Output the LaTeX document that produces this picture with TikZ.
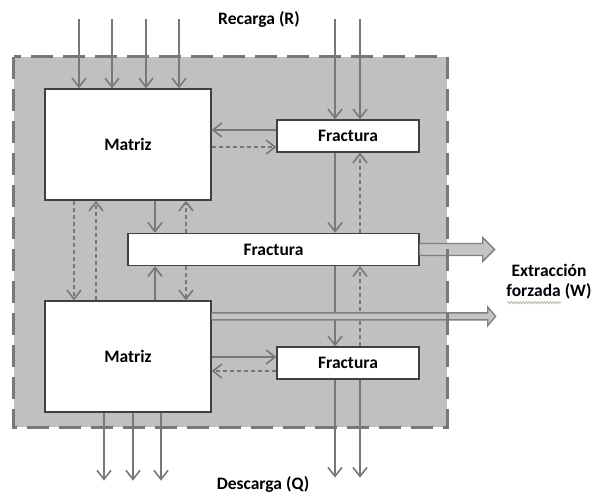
\documentclass[tikz,border=0pt]{standalone}
\usepackage{fontspec}
\setmainfont{Carlito}
\usetikzlibrary{arrows.meta,positioning,calc,decorations.pathmorphing}
\definecolor{FondoGris}{RGB}{192,192,192}
\definecolor{LineaGris}{RGB}{120,120,120}
\definecolor{BordeCaja}{RGB}{64,64,64}
\definecolor{BloqueGris}{RGB}{196,196,196}
\definecolor{BloqueBorde}{RGB}{128,128,128}
\definecolor{OndaGris}{RGB}{190,180,160}
\tikzset{
  >={Straight Barb[length=9pt,width=14pt,line width=1.6pt]},
  caja/.style={draw=BordeCaja,line width=1.3pt,fill=white,font=\fontsize{17.5}{20}\selectfont\bfseries,inner sep=0pt},
  matriz/.style={caja,minimum width=166pt,minimum height=111pt},
  fractura/.style={caja,minimum height=32pt},
  flujo/.style={->,line width=1.8pt,draw=LineaGris},
  retorno/.style={flujo,line width=1.6pt,dash pattern=on 4pt off 3pt},
  bloque/.style={draw=BloqueBorde,line width=1.3pt,fill=BloqueGris,line join=miter},
  zona/.style={fill=FondoGris,inner sep=0pt,minimum width=433pt,minimum height=370pt},
  borde/.style={draw=LineaGris,line width=3pt,dash pattern=on 22pt off 10pt},
  etiqueta/.style={font=\fontsize{17.5}{20}\selectfont\bfseries,align=center,text=black,inner sep=0pt},
  onda/.style={draw=OndaGris,line width=0.8pt,decorate,decoration={snake,amplitude=1pt,segment length=3pt}}
}
\begin{document}
\begin{tikzpicture}[x=1pt,y=-1pt]
  \useasboundingbox (0,0) rectangle (594,493);
  \node[zona] (zona) at (230.5,242) {};
  % cajas
  \node[matriz] (matSup) at (128,144.5) {Matriz};
  \node[matriz] (matInf) at (128,356.5) {Matriz};
  \node[fractura,minimum width=142pt] (fracSup) at (348,136) {Fractura};
  \node[fractura,minimum width=291pt] (fracMed) at (273.5,249.5) {Fractura};
  \node[fractura,minimum width=142pt] (fracInf) at (348,363) {Fractura};
  % recarga
  \foreach \dx [count=\i] in {-49,-16,18,51} {
    \coordinate (recarga\i) at ($(matSup.north)+(\dx,-69)$);
    \draw[flujo] (recarga\i) -- (recarga\i |- matSup.north);
  }
  \foreach \dx [count=\i] in {-13,12} {
    \coordinate (recargaF\i) at ($(fracSup.north)+(\dx,-100)$);
    \draw[flujo] (recargaF\i) -- (recargaF\i |- fracSup.north);
  }
  % intercambios matriz - fractura
  \coordinate (c1) at ($(fracSup.west)+(0,-6)$);
  \draw[flujo] (c1) -- (c1 -| matSup.east);
  \coordinate (c2) at ($(matSup.east)+(0,2.5)$);
  \draw[retorno] (c2) -- (c2 -| fracSup.west);
  \coordinate (c3) at ($(matSup.south)+(27,0)$);
  \coordinate (c4) at ($(matSup.south)+(58,0)$);
  \draw[flujo] (c3) -- (c3 |- fracMed.north);
  \draw[retorno] (c4 |- fracMed.north) -- (c4);
  \draw[flujo] (c3 |- matInf.north) -- (c3 |- fracMed.south);
  \draw[retorno] (c4 |- fracMed.south) -- (c4 |- matInf.north);
  \coordinate (c5) at ($(matSup.south)+(-54,0)$);
  \coordinate (c6) at ($(matSup.south)+(-32,0)$);
  \draw[retorno] (c5) -- (c5 |- matInf.north);
  \draw[retorno] (c6 |- matInf.north) -- (c6);
  \coordinate (c7) at ($(fracSup.south)+(-13,0)$);
  \coordinate (c8) at ($(fracSup.south)+(12,0)$);
  \draw[flujo] (c7) -- (c7 |- fracMed.north);
  \draw[retorno] (c8 |- fracMed.north) -- (c8);
  \draw[flujo] (c7 |- fracMed.south) -- (c7 |- fracInf.north);
  \draw[retorno] (c8 |- fracInf.north) -- (c8 |- fracMed.south);
  \coordinate (c9) at ($(fracInf.west)+(0,-6)$);
  \draw[flujo] (c9 -| matInf.east) -- (c9);
  \coordinate (c10) at ($(fracInf.west)+(0,8)$);
  \draw[retorno] (c10) -- (c10 -| matInf.east);
  % descarga
  \foreach \dx [count=\i] in {-24,5,33} {
    \coordinate (descarga\i) at ($(matInf.south)+(\dx,68)$);
    \draw[flujo] (descarga\i |- matInf.south) -- (descarga\i);
  }
  \foreach \dx [count=\i] in {-13,12} {
    \coordinate (descargaF\i) at ($(fracInf.south)+(\dx,98)$);
    \draw[flujo] (descargaF\i |- fracInf.south) -- (descargaF\i);
  }
  % extraccion forzada
  \draw[bloque] ($(fracMed.east)+(0,-6)$) -- ++(63,0) -- ++(0,-6) -- ++(12,12) -- ++(-12,12) -- ++(0,-6) -- ($(fracMed.east)+(0,6)$);
  \draw[bloque] ($(matInf.north east)+(0,12.5)$) -- ++(276,0) -- ++(0,-6) -- ++(8,9.5) -- ++(-8,9.5) -- ++(0,-6) -- ($(matInf.north east)+(0,19.5)$);
  \draw[borde] (zona.north west) rectangle (zona.south east);
  % textos
  \node[etiqueta] (recarga) at (259,19) {Recarga (R)};
  \node[etiqueta] (descarga) at (263,484) {Descarga (Q)};
  \node[etiqueta] (extraccion) at (549,282) {Extracción\\forzada (W)};
  \draw[onda] ($(extraccion.south west)+(1,3)$) -- ++(54,0);
\end{tikzpicture}
\end{document}
